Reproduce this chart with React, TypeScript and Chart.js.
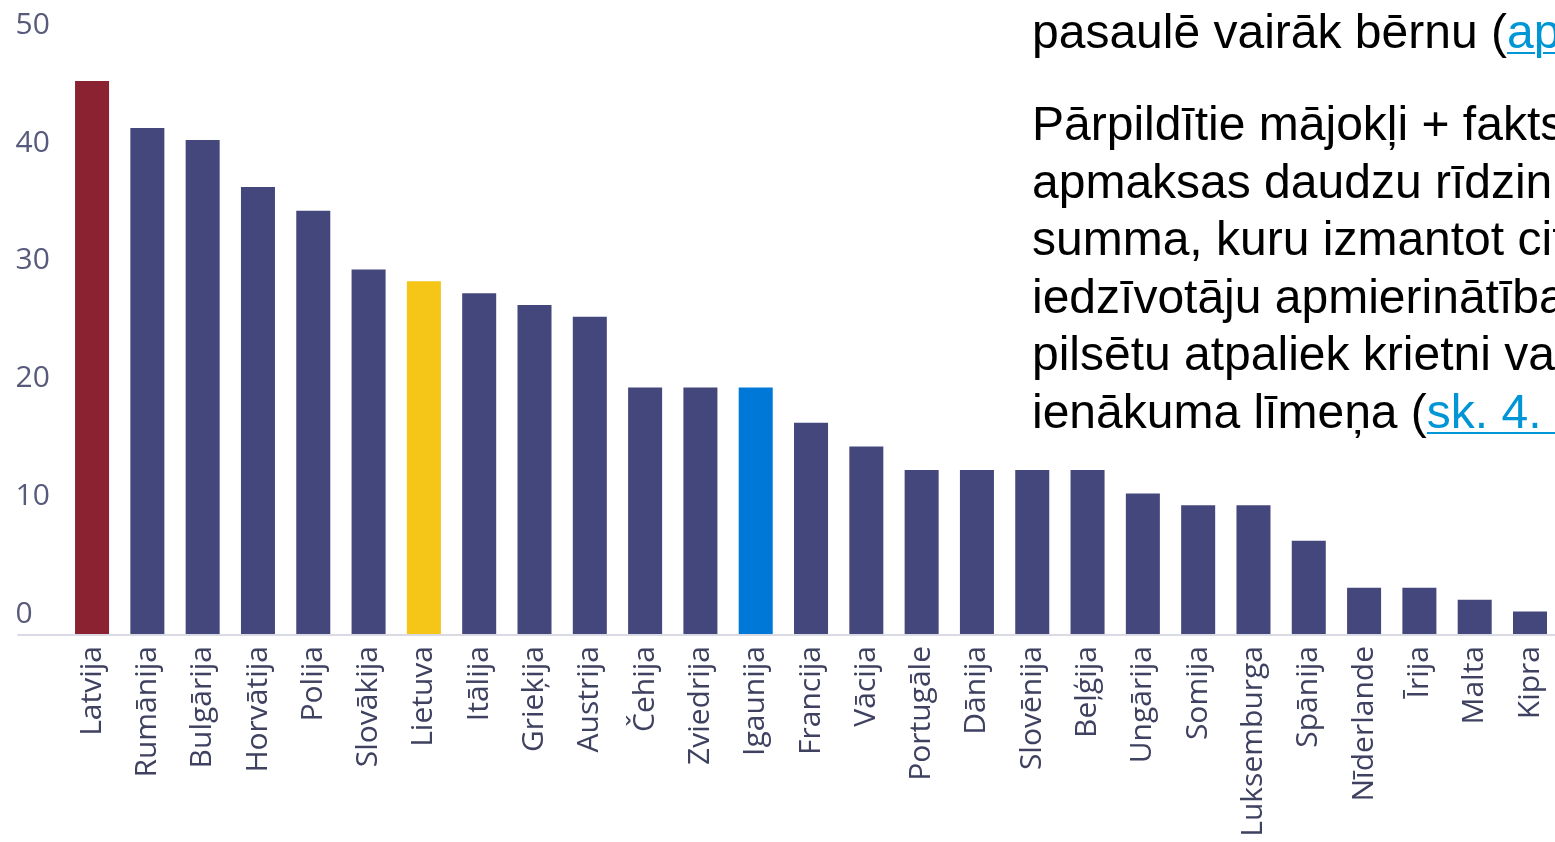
import React, { useEffect, useRef } from "react";
import { Chart, registerables } from "chart.js";

Chart.register(...registerables);

const categories: string[] = [
  "Latvija", "Rumānija", "Bulgārija", "Horvātija", "Polija", "Slovākija", "Lietuva",
  "Itālija", "Grieķija", "Austrija", "Čehija", "Zviedrija", "Igaunija", "Francija",
  "Vācija", "Portugāle", "Dānija", "Slovēnija", "Beļģija", "Ungārija", "Somija",
  "Luksemburga", "Spānija", "Nīderlande", "Īrija", "Malta", "Kipra",
];

const values: number[] = [
  47, 43, 42, 38, 36, 31, 30, 29, 28, 27, 21, 21, 21, 18, 16, 14, 14, 14, 14, 12, 11,
  11, 8, 4, 4, 3, 2,
];

const yTicks: number[] = [0, 10, 20, 30, 40, 50];

const defaultColor = "#44477b";
const highlightNames: string[] = ["Latvija", "Lietuva", "Igaunija"];
const highlightColors: string[] = ["#8b2232", "#f5c518", "#0078d8"];

const barColors = categories.map((c) => {
  const i = highlightNames.indexOf(c);
  return i >= 0 ? highlightColors[i] : defaultColor;
});

const textFont = "'Liberation Sans', Arial, sans-serif";
const linkStyle: React.CSSProperties = {
  color: "#0096d6",
  textDecoration: "underline",
  textDecorationThickness: "2px",
  textUnderlineOffset: "4px",
};

export default function App() {
  const canvasRef = useRef<HTMLCanvasElement | null>(null);

  useEffect(() => {
    document.body.style.margin = "0";
    const canvas = canvasRef.current;
    if (!canvas) return;
    const chart = new Chart(canvas, {
      type: "bar",
      data: {
        labels: categories,
        datasets: [
          {
            data: values,
            backgroundColor: barColors,
            borderWidth: 0,
            barPercentage: 0.615,
            categoryPercentage: 1,
          },
        ],
      },
      options: {
        animation: false,
        responsive: false,
        maintainAspectRatio: false,
        layout: { padding: { left: 15.5, top: 45.6, right: 0, bottom: 0 } },
        plugins: { legend: { display: false }, tooltip: { enabled: false } },
        scales: {
          x: {
            grid: { display: false, drawTicks: false },
            border: { display: false },
            ticks: {
              autoSkip: false,
              minRotation: 90,
              maxRotation: 90,
              padding: 11,
              color: "#3f4160",
              font: { family: "'Open Sans', sans-serif", size: 30 },
            },
            afterFit: (scale: any) => {
              scale.height = 207;
            },
          },
          y: {
            min: 0,
            max: 50,
            afterBuildTicks: (scale: any) => {
              scale.ticks = yTicks.map((v) => ({ value: v }));
            },
            grid: {
              color: (ctx: any) => (ctx.tick && ctx.tick.value === 0 ? "#d9dae4" : "rgba(0,0,0,0)"),
              lineWidth: 2,
              drawTicks: true,
              tickLength: 47,
            },
            border: { display: false },
            ticks: {
              crossAlign: "far",
              labelOffset: -20.5,
              color: "#575a7a",
              font: { family: "'Open Sans', sans-serif", size: 30 },
            },
            afterFit: (scale: any) => {
              scale.width = 48.9;
            },
          },
        },
      },
    });
    return () => chart.destroy();
  }, []);

  return (
    <div
      style={{
        position: "fixed",
        left: 0,
        top: 0,
        width: "1555px",
        height: "842px",
        overflow: "hidden",
        background: "#ffffff",
      }}
    >
      <canvas
        ref={canvasRef}
        width={1577}
        height={842}
        style={{ position: "absolute", left: 0, top: 0, width: "1577px", height: "842px" }}
      />
      <div
        style={{
          position: "absolute",
          left: "1032px",
          top: "3px",
          fontFamily: textFont,
          fontSize: "48px",
          lineHeight: "57.5px",
          color: "#000",
          whiteSpace: "nowrap",
        }}
      >
        pasaulē vairāk bērnu (<span style={linkStyle}>apskatīt</span>)
      </div>
      <div
        style={{
          position: "absolute",
          left: "1032px",
          top: "95px",
          fontFamily: textFont,
          fontSize: "48px",
          lineHeight: "57.5px",
          color: "#000",
          whiteSpace: "nowrap",
        }}
      >
        <div>Pārpildītie mājokļi + fakts</div>
        <div>apmaksas daudzu rīdzinieku</div>
        <div>summa, kuru izmantot citiem</div>
        <div>iedzīvotāju apmierinātība</div>
        <div>pilsētu atpaliek krietni vairāk</div>
        <div>
          ienākuma līmeņa (<span style={linkStyle}>sk. 4. att.</span>)
        </div>
      </div>
    </div>
  );
}
